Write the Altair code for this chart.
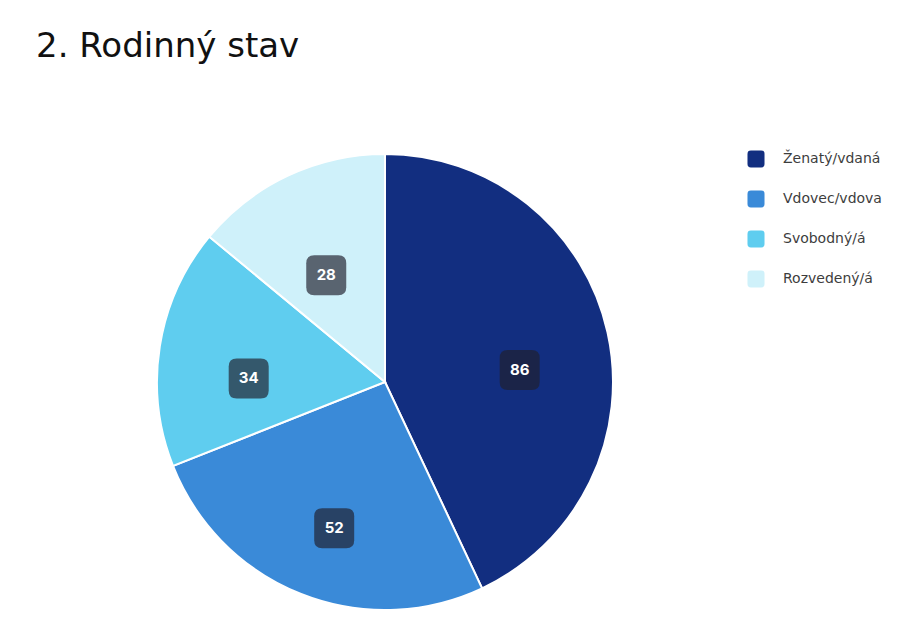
import altair as alt
import pandas as pd

categories = ["Ženatý/vdaná", "Vdovec/vdova", "Svobodný/á", "Rozvedený/á"]
counts = [86, 52, 34, 28]
colors = ["#122e80", "#3a8ad8", "#5fcdef", "#cff1fa"]
order = [0, 1, 2, 3]

df = pd.DataFrame({"stav": categories, "pocet": counts, "poradi": order})

W, H = 893, 545
CX, CY = 377, 300   # pie centre inside the view (px)
R = 228             # pie radius
LR = 138            # label radius

rounded = ("M -0.6,-1 L 0.6,-1 Q 1,-1 1,-0.6 L 1,0.6 Q 1,1 0.6,1 "
           "L -0.6,1 Q -1,1 -1,0.6 L -1,-0.6 Q -1,-1 -0.6,-1 Z")

color = alt.Color(
    "stav:N",
    scale=alt.Scale(domain=categories, range=colors),
    sort=categories,
    legend=alt.Legend(
        title=None, orient="none", legendX=739, legendY=68,
        symbolType=rounded, symbolSize=290, symbolStrokeWidth=0,
        labelFontSize=14, labelColor="#3d3d3d", labelFont="DejaVu Sans",
        rowPadding=22, labelOffset=18, padding=0,
    ),
)

base = alt.Chart(df)

pie = base.mark_arc(radius=R, stroke="white", strokeWidth=2).encode(
    theta=alt.Theta("pocet:Q", stack=True),
    color=color,
    order=alt.Order("poradi:Q"),
    x=alt.value(CX),
    y=alt.value(CY),
)

pos = base.transform_window(
    cum="sum(pocet)", sort=[alt.SortField("poradi")]
).transform_joinaggregate(
    total="sum(pocet)"
).transform_calculate(
    mid="(datum.cum - datum.pocet / 2) / datum.total * 2 * PI",
    lx=f"{LR} * sin(datum.mid)",
    ly=f"{LR} * cos(datum.mid)",
)

xs = alt.X("lx:Q", scale=alt.Scale(domain=[-CX, W - CX], nice=False, zero=False), axis=None)
ys = alt.Y("ly:Q", scale=alt.Scale(domain=[-(H - CY), CY], nice=False, zero=False), axis=None)

boxes = pos.mark_point(
    shape=rounded, size=1600, filled=True, color="#21212e",
    fillOpacity=0.68, strokeWidth=0, yOffset=18, opacity=1,
).encode(x=xs, y=ys)

labels = pos.mark_text(
    color="white", fontWeight="bold", fontSize=15, font="Inter", yOffset=18,
).encode(x=xs, y=ys, text="pocet:Q")

chart = alt.layer(pie, boxes, labels).properties(
    width=W, height=H,
    padding={"top": 22, "left": 0, "right": 0, "bottom": 0},
    title=alt.TitleParams(
        "2. Rodinný stav", anchor="start", fontSize=34, fontWeight="normal",
        font="DejaVu Sans", color="#111111", dx=28, offset=18,
    ),
).configure_view(stroke=None).resolve_scale(color="shared")

chart.save("out.html", embed_options={"renderer": "svg", "actions": False})
